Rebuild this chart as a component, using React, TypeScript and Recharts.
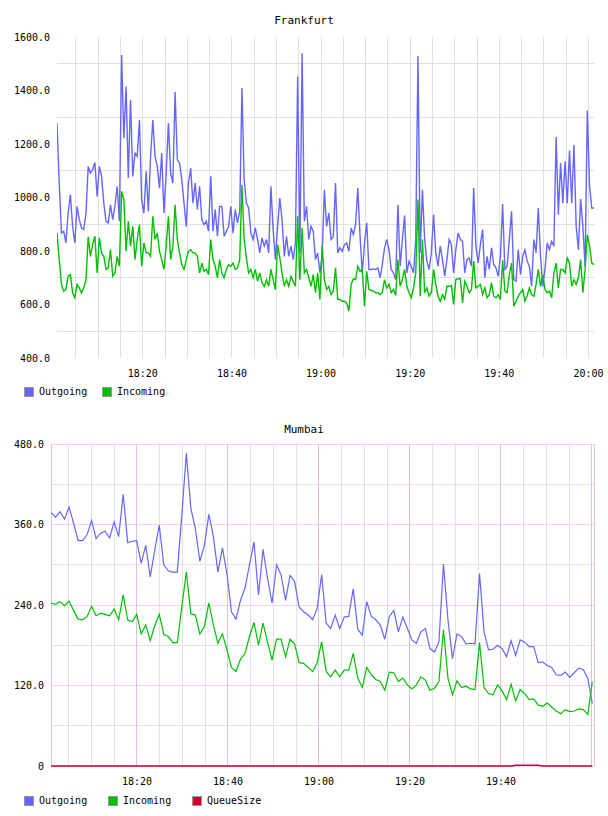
import { CartesianGrid, Line, LineChart, XAxis, YAxis } from "recharts";

// Frankfurt: one sample every 30 s, times in minutes after 18:00
const FRA_START = 0.74;
const FRA_STEP = 0.5;
const FRA_OUTGOING = [
  1278, 1054, 867, 874, 830, 942, 1011, 892, 830, 967, 917, 886, 880, 940, 1116, 1091, 1104, 1131, 1004, 1116,
  1079, 979, 911, 905, 973, 917, 967, 1042, 911, 1533, 1222, 1415, 1073, 1365, 1079, 1166, 1154, 1290, 992, 942,
  1098, 948, 1154, 1290, 1154, 1116, 1035, 1166, 942, 1091, 1278, 1091, 1054, 1394, 1141, 1129, 1066, 979, 892, 1054,
  1110,
  979, 1054, 955, 1042, 917, 899, 911, 874, 1079, 874, 955, 855, 967, 967, 855, 874, 892, 967, 867, 955,
  905, 948, 1409, 1066, 979, 961, 867, 843, 886, 843, 793, 849, 818, 843, 793, 1042, 880, 768, 892, 998,
  917, 780, 855, 780, 818, 768, 830, 1452, 793, 1539, 911, 967, 843, 892, 874, 768, 793, 718, 780, 1029,
  892, 942, 843, 855, 1054, 793, 812, 799, 824, 830, 799, 886, 861, 899, 1035, 855, 718, 830, 905, 731,
  731, 733, 731, 737, 700, 749, 812, 843, 805, 731, 718, 693, 973, 743, 843, 933, 718, 762, 743, 718,
  843, 1529, 793, 1029, 843, 762, 731, 793, 936, 793, 743, 818, 768, 706, 768, 843, 824, 718, 805, 867,
  843, 836, 718, 768, 774, 743, 1035, 818, 755, 824, 880, 700, 780, 731, 812, 749, 737, 706, 780, 976,
  731, 743, 843, 948, 693, 687, 805, 712, 780, 805, 762, 743, 668, 843, 793, 961, 780, 668, 731, 830,
  805, 836, 818, 1226, 936, 1129, 979, 1135, 979, 1176, 979, 1197, 892, 805, 994, 892, 743, 1325, 1042, 961,
  961,
];
const FRA_INCOMING = [
  867, 768, 675, 650, 656, 706, 712, 644, 625, 675, 662, 644, 662, 693, 853, 780, 824, 855, 718, 849,
  793, 780, 731, 737, 805, 706, 718, 780, 743, 1023, 992, 799, 911, 818, 892, 768, 843, 899, 743, 830,
  793, 793, 780, 930, 843, 867, 799, 768, 731, 818, 930, 768, 818, 973, 843, 793, 749, 731, 768, 799,
  805,
  793, 793, 780, 718, 755, 724, 731, 712, 843, 768, 743, 700, 768, 718, 700, 731, 749, 743, 755, 731,
  737, 768, 1048, 843, 774, 718, 731, 700, 731, 687, 718, 681, 668, 693, 668, 731, 693, 656, 824, 774,
  718, 668, 693, 668, 706, 687, 668, 930, 693, 886, 718, 731, 700, 668, 712, 644, 718, 619, 818, 693,
  656, 668, 637, 650, 737, 619, 619, 612, 612, 606, 575, 675, 696, 693, 743, 724, 731, 594, 724, 656,
  653, 650, 644, 644, 637, 644, 693, 662, 675, 644, 656, 634, 768, 668, 693, 731, 668, 644, 625, 662,
  718, 992, 631, 843, 644, 662, 631, 644, 731, 675, 631, 612, 637, 619, 668, 668, 671, 600, 693, 696,
  696, 606, 687, 668, 644, 656, 762, 662, 668, 675, 637, 662, 625, 637, 681, 631, 625, 637, 619, 765,
  650, 644, 712, 755, 594, 612, 631, 644, 656, 612, 634, 662, 637, 631, 675, 731, 668, 712, 656, 644,
  650, 625, 718, 755, 662, 731, 731, 718, 774, 755, 668, 693, 675, 700, 768, 644, 731, 861, 818, 755,
  749,
];

// Mumbai: roughly one sample per minute
const MUM_START = 1.1;
const MUM_STEP = 0.9914;
const MUM_END = 120.44;
const MUM_OUTGOING = [
  378, 371, 379, 368, 386, 362, 336, 336, 345, 366, 339, 347, 350, 340, 364, 342, 405, 333, 335, 336,
  302, 329, 282, 322, 359, 300, 291, 289, 289, 374, 466, 384, 354, 305, 329, 375, 342, 289, 325, 287,
  230, 219, 247, 265, 300, 334, 255, 323, 280, 243, 300, 285, 247, 284, 275, 237, 230, 225, 218, 235,
  285, 213, 205, 225, 205, 222, 223, 264, 204, 195, 245, 223, 218, 210, 189, 223, 232, 200, 222, 205,
  188, 183, 200, 205, 175, 170, 185, 301, 218, 160, 197, 193, 182, 183, 182, 287, 200, 173, 174, 180,
  175, 163, 187, 165, 188, 185, 178, 178, 154, 155, 150, 147, 136, 135, 140, 132, 139, 146, 144, 131,
  93,
];
const MUM_INCOMING = [
  243, 241, 245, 239, 246, 232, 219, 218, 223, 238, 224, 228, 226, 224, 234, 218, 255, 218, 215, 226,
  197, 210, 187, 209, 226, 196, 193, 184, 184, 237, 289, 227, 225, 197, 208, 243, 210, 183, 197, 173,
  147, 141, 159, 168, 193, 214, 180, 213, 185, 158, 189, 189, 163, 189, 182, 154, 153, 147, 141, 154,
  185, 141, 133, 143, 133, 143, 143, 168, 131, 117, 147, 136, 129, 126, 113, 140, 139, 126, 131, 121,
  115, 121, 133, 128, 113, 116, 126, 203, 131, 106, 127, 117, 119, 115, 114, 184, 117, 108, 106, 121,
  112, 99, 122, 97, 114, 108, 99, 100, 91, 89, 94, 88, 82, 78, 84, 81, 82, 85, 84, 77,
  126,
];
const MUM_QUEUE = [
  0, 0, 0, 0, 0, 0, 0, 0, 0, 0, 0, 0, 0, 0, 0, 0, 0, 0, 0, 0,
  0, 0, 0, 0, 0, 0, 0, 0, 0, 0, 0, 0, 0, 0, 0, 0, 0, 0, 0, 0,
  0, 0, 0, 0, 0, 0, 0, 0, 0, 0, 0, 0, 0, 0, 0, 0, 0, 0, 0, 0,
  0, 0, 0, 0, 0, 0, 0, 0, 0, 0, 0, 0, 0, 0, 0, 0, 0, 0, 0, 0,
  0, 0, 0, 0, 0, 0, 0, 0, 0, 0, 0, 0, 0, 0, 0, 0, 0, 0, 0, 0,
  0, 0, 0, 1, 1, 1, 1, 1, 1, 0, 0, 0, 0, 0, 0, 0, 0, 0, 0, 0,
  0,
];

// axis ticks (minutes after 18:00)
const FIVE_MIN = [5, 10, 15, 20, 25, 30, 35, 40, 45, 50, 55, 60, 65, 70, 75, 80, 85, 90, 95, 100, 105, 110, 115, 120];
const FRA_TIME_TICKS = [20, 40, 60, 80, 100, 120];
const MUM_TIME_TICKS = [20, 40, 60, 80, 100];
const FRA_Y_TICKS = [400, 600, 800, 1000, 1200, 1400, 1600];
const FRA_Y_GRID = [500, 700, 900, 1100, 1300, 1500];
const MUM_Y_TICKS = [0, 120, 240, 360, 480];
const MUM_Y_GRID = [60, 180, 300, 420];

const OUT_COLOR = "#6666ff";
const IN_COLOR = "#00c000";
const QUEUE_COLOR = "#cc0033";
const FONT = "'DejaVu Sans Mono', monospace";

const fraData = FRA_OUTGOING.map((v, i) => ({ t: FRA_START + i * FRA_STEP, out: v, inc: FRA_INCOMING[i] }));
const mumData = MUM_OUTGOING.map((v, i) => ({
  t: MUM_START + i * MUM_STEP,
  out: v,
  inc: MUM_INCOMING[i],
  queue: MUM_QUEUE[i],
}));

const clock = (m: number) => {
  const h = 18 + Math.floor(m / 60);
  const mm = Math.round(m % 60);
  return `${h}:${String(mm).padStart(2, "0")}`;
};

const tickStyle = { fontSize: 10, fontFamily: FONT, fill: "#000" };

function LegendKey({ items, top }: { items: { name: string; color: string; left: number }[]; top: number }) {
  return (
    <>
      {items.map((it) => (
        <div key={it.name} style={{ position: "absolute", top, left: it.left, display: "flex", alignItems: "center" }}>
          <div style={{ width: 8, height: 8, background: it.color, border: "1px solid #999" }} />
          <span style={{ marginLeft: 5, fontSize: 10, lineHeight: "10px" }}>{it.name}</span>
        </div>
      ))}
    </>
  );
}

export default function App() {
  return (
    <div
      style={{
        position: "absolute",
        left: 0,
        top: 0,
        width: 608,
        height: 816,
        background: "#fff",
        fontFamily: FONT,
        color: "#000",
      }}
    >
      <div style={{ position: "absolute", top: 14, width: 608, textAlign: "center", fontSize: 11, lineHeight: "14px" }}>
        Frankfurt
      </div>
      <div style={{ position: "absolute", top: 0, left: 0 }}>
        <LineChart width={608} height={380} data={fraData} margin={{ top: 37, right: 14, bottom: 0, left: 0 }}>
          <CartesianGrid
            stroke="#e0e0e0"
            shapeRendering="crispEdges"
            horizontalValues={FRA_Y_GRID}
            verticalValues={FIVE_MIN}
          />
          <XAxis
            dataKey="t"
            type="number"
            domain={[FRA_START, FRA_START + (FRA_OUTGOING.length - 1) * FRA_STEP]}
            ticks={FRA_TIME_TICKS}
            interval={0}
            tickFormatter={clock}
            axisLine={false}
            tickLine={false}
            tickSize={6}
            tickMargin={6}
            height={22}
            tick={tickStyle}
            allowDataOverflow
          />
          <YAxis
            type="number"
            domain={[400, 1600]}
            ticks={FRA_Y_TICKS}
            interval={0}
            tickFormatter={(v: number) => v.toFixed(1)}
            axisLine={false}
            tickLine={false}
            tickSize={5}
            tickMargin={2}
            width={57}
            tick={tickStyle}
          />
          <Line dataKey="out" type="linear" stroke={OUT_COLOR} strokeWidth={1.4} dot={false} isAnimationActive={false} />
          <Line dataKey="inc" type="linear" stroke={IN_COLOR} strokeWidth={1.4} dot={false} isAnimationActive={false} />
        </LineChart>
      </div>
      <LegendKey
        top={387}
        items={[
          { name: "Outgoing", color: OUT_COLOR, left: 24 },
          { name: "Incoming", color: IN_COLOR, left: 102 },
        ]}
      />

      <div style={{ position: "absolute", top: 423, width: 608, textAlign: "center", fontSize: 11, lineHeight: "14px" }}>
        Mumbai
      </div>
      <div style={{ position: "absolute", top: 400, left: 0 }}>
        <LineChart width={608} height={388} data={mumData} margin={{ top: 44, right: 14, bottom: 0, left: 0 }}>
          <CartesianGrid
            stroke="#e2e2e2"
            shapeRendering="crispEdges"
            horizontalValues={MUM_Y_GRID}
            verticalValues={FIVE_MIN}
          />
          <CartesianGrid stroke="#efd2ef" shapeRendering="crispEdges" horizontalValues={MUM_Y_TICKS} vertical={false} />
          <CartesianGrid
            stroke="#dcc2dc"
            shapeRendering="crispEdges"
            horizontal={false}
            verticalValues={[MUM_START, ...FRA_TIME_TICKS, MUM_END]}
          />
          <XAxis
            dataKey="t"
            type="number"
            domain={[MUM_START, MUM_END]}
            ticks={MUM_TIME_TICKS}
            interval={0}
            tickFormatter={clock}
            axisLine={false}
            tickLine={false}
            tickSize={6}
            tickMargin={6}
            height={22}
            tick={tickStyle}
            allowDataOverflow
          />
          <YAxis
            type="number"
            domain={[0, 480]}
            ticks={MUM_Y_TICKS}
            interval={0}
            tickFormatter={(v: number) => (v === 0 ? "0" : v.toFixed(1))}
            axisLine={false}
            tickLine={false}
            tickSize={5}
            tickMargin={2}
            width={51}
            tick={tickStyle}
          />
          <Line dataKey="out" type="linear" stroke={OUT_COLOR} strokeWidth={1.2} dot={false} isAnimationActive={false} />
          <Line dataKey="inc" type="linear" stroke={IN_COLOR} strokeWidth={1.2} dot={false} isAnimationActive={false} />
          <Line dataKey="queue" type="linear" stroke={QUEUE_COLOR} strokeWidth={1.5} dot={false} isAnimationActive={false} />
        </LineChart>
      </div>
      <LegendKey
        top={796}
        items={[
          { name: "Outgoing", color: OUT_COLOR, left: 24 },
          { name: "Incoming", color: IN_COLOR, left: 108 },
          { name: "QueueSize", color: QUEUE_COLOR, left: 192 },
        ]}
      />
    </div>
  );
}
